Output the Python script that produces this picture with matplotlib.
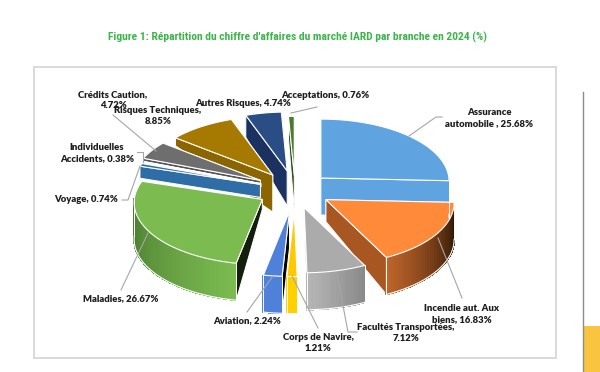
import numpy as np
import matplotlib
matplotlib.use("Agg")
import matplotlib.pyplot as plt
from matplotlib.colors import to_rgb

TITLE = "Figure 1: Répartition du chiffre d'affaires du marché IARD par branche en 2024 (%)"

names = ["Assurance\nautomobile ", "Incendie aut. Aux\nbiens", "Facultés Transportées",
         "Corps de Navire", "Aviation", "Maladies", "Voyage", "Individuelles\nAccidents",
         "Crédits Caution", "Risques Techniques", "Autres Risques", "Acceptations"]
values = [25.68, 16.83, 7.12, 1.21, 2.24, 26.67, 0.74, 0.38, 4.72, 8.85, 4.74, 0.76]
seps = [", ", ", ", ",\n", ",\n", ", ", ", ", ", ", ", ", ",\n", ",\n", ", ", ", "]

# look of each slice
top_colors = ["#5FA3E0", "#FF8A3A", "#ABABAB", "#FFC800", "#4F81DA", "#7BBB50",
              "#2E6DA6", "#EDEDED", "#6E6E6E", "#A67A00", "#2A4D85", "#4B7A30"]
side_colors = ["#5FA3E0", "#A85722", "#A0A0A0", "#FFC800", "#060606", "#141E0C",
               "#2E6DA6", "#DDDDDD", "#555555", "#8A6500", "#1B3260", "#2F5020"]
rim_start = ["#5FA3E0", "#1A0A00", "#8A8A8A", "#FFD000", "#4F81DA", "#7BBB50",
             "#2E6DA6", "#DDDDDD", "#555555", "#8A6500", "#1B3260", "#2F5020"]
rim_end = ["#5FA3E0", "#BC642A", "#B5B5B5", "#FFD000", "#4F81DA", "#3E6B28",
           "#2E6DA6", "#DDDDDD", "#555555", "#8A6500", "#1B3260", "#2F5020"]
explode = [0.29, 0.28, 0.28, 0.33, 0.33, 0.29, 0.29, 0.29, 0.32, 0.31, 0.33, 0.25]
apex_depth = [37, 22, 20, 15, 37, 10, 13, 3, 3, 37, 35, 35]
rim_depth = [37, 37, 37, 37, 37, 37, 12, 3, 3, 8, 22, 22]

label_pos = [(489, 118), (462, 314), (406, 333), (318, 343), (247, 321), (121, 299),
             (86, 200), (97, 153), (113, 100), (158, 116), (243, 104), (325, 96)]
leaders = [
    [(409, 136), (436, 117), (442, 117)],
    [(438, 238), (462, 298)],
    [(337, 274), (348, 332), (357, 332)],
    [(292, 276), (318, 328)],
    [(273, 276), (247, 312)],
    [(148, 233), (121, 290)],
    [(122, 200), (128, 200), (140, 166)],
    [(137, 152), (143, 152), (143, 162)],
    [(113, 115), (156, 151)],
    [(291, 113), (317, 107)],
]

CX, CY = 295, 190
RX, RY = 128, 62


def rim_point(theta, r=1.0):
    # clockwise from 12 o'clock, with the far side a little smaller
    s = 1 - 0.05 * np.cos(theta)
    return r * RX * s * np.sin(theta), -r * RY * s * np.cos(theta)


def draw_slice(ax, i, start, end):
    mid = (start + end) / 2
    ox, oy = rim_point(mid, explode[i])
    ax_x, ax_y = CX + ox, CY + oy
    thetas = np.linspace(start, end, max(int(np.degrees(end - start) / 1.5), 2) + 1)
    px, py = rim_point(thetas)
    px, py = px + ax_x, py + ax_y
    a_d, r_d = apex_depth[i], rim_depth[i]

    # the two flat cut faces, far one first
    faces = [(px[0], py[0]), (px[-1], py[-1])]
    faces.sort(key=lambda p: p[1])
    for fx, fy in faces:
        ax.fill([ax_x, fx, fx, ax_x], [ax_y, fy, fy + r_d, ax_y + a_d],
                facecolor=side_colors[i], edgecolor="white", linewidth=0.7, joinstyle="round")

    # outer wall, only where it faces the viewer
    c0, c1 = np.array(to_rgb(rim_start[i])), np.array(to_rgb(rim_end[i]))
    front = np.cos(thetas) < 0.02
    for k in range(len(thetas) - 1):
        if not (front[k] and front[k + 1]):
            continue
        col = c0 + (c1 - c0) * k / max(len(thetas) - 2, 1)
        ax.fill([px[k], px[k + 1], px[k + 1], px[k]],
                [py[k], py[k + 1], py[k + 1] + r_d, py[k] + r_d],
                facecolor=col, edgecolor=col, linewidth=0.6, antialiased=False)
    if front.any():
        ax.plot(px[front], py[front] + r_d, color="white", linewidth=0.8)
        for fx, fy in [(px[front][0], py[front][0]), (px[front][-1], py[front][-1])]:
            ax.plot([fx, fx], [fy, fy + r_d], color="white", linewidth=0.7)

    ax.fill(np.r_[ax_x, px], np.r_[ax_y, py], facecolor=top_colors[i],
            edgecolor="white", linewidth=0.8, joinstyle="round")


def main() -> None:
    fig = plt.figure(figsize=(6.0, 3.72), dpi=100)
    ax = fig.add_axes([0, 0, 1, 1])
    ax.set_xlim(0, 600)
    ax.set_ylim(372, 0)
    ax.axis("off")

    fig.text(298 / 600, 1 - 37 / 372, TITLE, ha="center", va="center", fontsize=8.25,
             fontweight="bold", color="#3CB54A",
             family=["Roboto Condensed", "Liberation Sans Narrow", "Roboto"])

    ax.add_patch(plt.Rectangle((34, 67), 522, 291, facecolor="white", edgecolor="#D9D9D9", linewidth=1.4))
    ax.plot([583, 583], [92, 372], color="#8C8C8C", linewidth=1.0)
    ax.add_patch(plt.Rectangle((584, 326), 16, 46, facecolor="#F9C440", edgecolor="none"))

    total = sum(values)
    edges = np.r_[0, np.cumsum(values)] / total * 2 * np.pi
    mids = (edges[:-1] + edges[1:]) / 2
    for i in sorted(range(len(values)), key=lambda j: -np.cos(mids[j])):
        draw_slice(ax, i, edges[i], edges[i + 1])

    for line in leaders:
        xs, ys = zip(*line)
        ax.plot(xs, ys, color="#A6A6A6", linewidth=0.8)

    for name, sep, value, (x, y) in zip(names, seps, values, label_pos):
        ax.text(x, y, f"{name}{sep}{value:.2f}%", ha="center", va="center", fontsize=6.8,
                fontweight="heavy", color="#1E1E1E", family="Lato", linespacing=1.35)

    fig.savefig("out.png", dpi=100)


if __name__ == "__main__":
    main()
